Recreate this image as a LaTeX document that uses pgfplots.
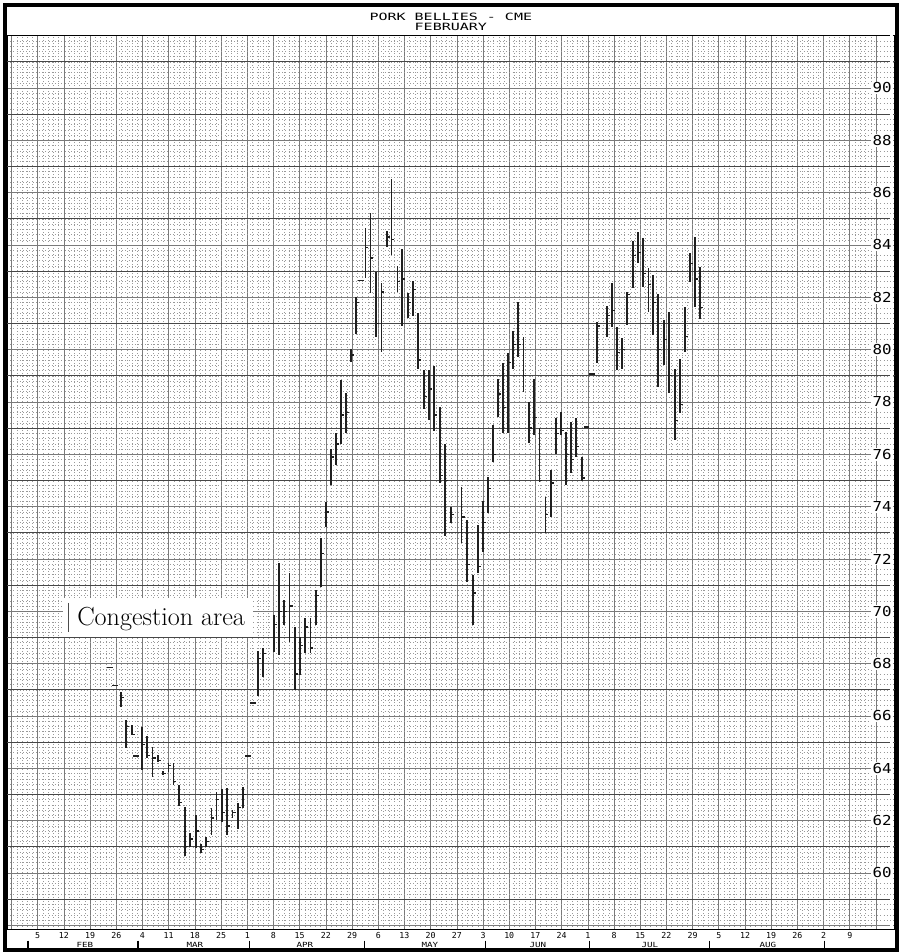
\documentclass[border=0pt]{standalone}
\usepackage{pgfplots}
\pgfplotsset{compat=1.18}
\usepackage{pgfplotstable}
\usepackage{fontspec}
\newfontfamily\plotmono{DejaVu Sans Mono}
\newfontfamily\plotnum[FakeStretch=1.15]{DejaVu Sans Mono}
\newfontfamily\plotmed[FakeStretch=1.3]{DejaVu Sans Mono}
\newfontfamily\plotwide[FakeStretch=1.5]{DejaVu Sans Mono}

\pgfdeclareplotmark{rtick}{%
  \pgfpathmoveto{\pgfqpoint{0pt}{0pt}}%
  \pgfpathlineto{\pgfqpoint{2.3pt}{0pt}}%
  \pgfusepathqstroke}

% daily high-low bars: week position, high, low, close
\pgfplotstableread{
w hi lo cl
3.18 66.93 66.36 66.70
3.37 65.85 64.78 65.60
3.60 65.66 65.28 65.30
3.98 65.58 63.94 64.90
4.17 65.24 64.40 64.50
4.38 64.82 63.67 64.40
4.59 64.51 64.24 64.30
4.78 63.90 63.75 63.80
4.99 64.20 63.86 64.10
5.18 64.20 63.37 63.50
5.39 63.37 62.57 62.70
5.62 62.53 60.65 61.00
5.81 61.53 61.00 61.30
6.04 62.20 60.96 61.60
6.23 61.10 60.77 60.90
6.42 61.38 61.00 61.20
6.63 62.49 61.46 62.10
6.82 63.10 62.03 62.80
7.03 63.21 61.95 62.30
7.23 63.25 61.46 61.80
7.44 62.41 62.10 62.30
7.65 62.68 61.69 62.50
7.84 63.29 62.49 63.00
8.41 68.50 66.78 68.20
8.60 68.60 67.50 68.40
9.02 69.86 68.45 69.50
9.21 71.85 68.33 70.00
9.40 70.44 69.48 70.00
9.61 71.47 68.83 70.20
9.82 69.40 67.00 67.60
10.01 69.02 67.57 68.70
10.20 69.75 68.41 69.40
10.41 69.75 68.41 68.60
10.62 70.82 69.48 70.60
10.81 72.80 70.93 72.20
11.00 74.18 73.22 73.80
11.19 76.20 74.83 75.90
11.39 76.82 75.60 76.40
11.58 78.84 76.40 77.50
11.77 78.34 76.82 77.60
11.96 80.03 79.53 79.80
12.15 82.01 80.60 81.80
12.51 84.65 82.74 83.90
12.70 85.22 82.17 83.50
12.91 82.97 80.49 81.00
13.12 82.55 79.91 82.20
13.33 84.54 83.92 84.30
13.50 86.52 83.62 84.20
13.73 83.20 82.20 82.60
13.90 83.85 80.91 82.70
14.13 82.17 81.21 81.80
14.32 82.63 81.29 82.30
14.52 81.40 79.26 79.60
14.74 79.22 77.73 78.20
14.93 79.22 77.31 78.50
15.13 79.38 76.89 77.50
15.35 77.81 74.91 75.20
15.56 76.40 72.88 75.00
15.77 73.99 73.38 73.70
16.18 74.75 72.61 73.60
16.40 73.49 71.12 71.80
16.61 71.39 69.48 70.70
16.81 73.30 71.47 71.70
17.01 74.22 72.27 73.40
17.19 75.14 73.76 74.70
17.38 77.12 75.71 76.00
17.57 78.88 77.43 78.30
17.76 79.49 76.82 77.80
17.95 79.87 76.82 79.50
18.14 80.71 79.26 80.20
18.33 81.82 79.72 80.20
18.54 80.49 78.38 79.00
18.75 78.00 76.43 77.00
18.94 78.88 76.74 77.40
19.15 77.00 74.94 75.00
19.38 74.37 73.00 73.70
19.59 75.40 73.61 74.90
19.78 77.39 76.01 76.80
19.97 77.62 76.74 76.90
20.17 76.86 74.83 76.00
20.37 77.24 75.29 75.80
20.56 77.39 75.90 76.30
20.78 75.90 74.98 75.10
21.35 81.06 79.49 80.90
21.73 81.67 80.49 81.30
21.92 82.55 80.87 81.50
22.11 80.87 79.22 79.90
22.30 80.45 79.26 80.00
22.49 82.20 80.94 82.10
22.72 84.15 82.36 83.60
22.91 84.50 83.31 83.70
23.10 84.27 82.40 82.90
23.31 83.12 81.44 82.50
23.50 82.85 80.56 81.80
23.69 82.13 78.57 80.00
23.90 81.13 79.41 80.40
24.10 81.44 78.34 79.00
24.33 79.26 76.55 77.30
24.52 79.64 77.58 77.90
24.71 81.63 79.91 80.50
24.90 83.70 82.59 83.30
25.09 84.31 81.63 82.70
25.28 83.16 81.17 81.60
}\bars

% one-price days
\pgfplotstableread{
w p
2.76 67.86
2.95 67.16
3.75 64.47
8.03 64.47
8.22 66.50
12.34 82.64
20.95 77.05
21.16 79.07
}\dashes

\begin{document}
\begin{tikzpicture}
\begin{axis}[
  scale only axis, width=666pt, height=671.25pt,
  xmin=-1.172, xmax=32.72, ymin=57.826, ymax=92.025,
  clip=false,
  axis line style={black, line width=0.7pt},
  /pgf/number format/assume math mode=true,
  xtick={-1,...,32},
  xticklabels={,5,12,19,26,4,11,18,25,1,8,15,22,29,6,13,20,27,3,10,17,24,1,8,15,22,29,5,12,19,26,2,9,},
  ytick={58,60,...,92},
  yticklabels={,60,62,64,66,68,70,72,74,76,78,80,82,84,86,88,90,},
  extra y ticks={59,61,...,91}, extra y tick labels={},
  extra y tick style={major grid style={black!72, line width=0.6pt}},
  minor x tick num=4, minor y tick num=9,
  grid=both,
  major grid style={black!52, line width=0.5pt},
  minor grid style={black!40, dotted, line width=0.35pt},
  major tick length=0pt, minor tick length=0pt,
  yticklabel pos=right,
  yticklabel style={font=\plotnum\fontsize{10.3}{11}\selectfont, anchor=east, inner sep=0.8pt, xshift=-1.5pt, fill=white},
  xticklabel style={font=\plotmono\fontsize{6.2}{7}\selectfont, anchor=north, inner sep=0pt, yshift=-1.5pt},
]
% congestion label box (drawn first so bars stay on top)
\fill[white] (axis cs:0.966,70.51) rectangle (axis cs:8.22,69.02);
\draw[black!70, line width=0.6pt] (axis cs:1.157,70.32) -- (axis cs:1.157,69.21);
\node[anchor=west, inner sep=0pt, font=\fontsize{19.6}{22}\selectfont] at (axis cs:1.50,69.70) {Congestion area};

% high-low bars with closing ticks
\addplot[only marks, mark=rtick, black!88, line width=1pt,
  error bars/.cd, y dir=both, y explicit,
  error mark=none, error bar style={black!88, line width=1.25pt}]
  table[x=w, y=cl,
        y error plus expr=\thisrow{hi}-\thisrow{cl},
        y error minus expr=\thisrow{cl}-\thisrow{lo}] {\bars};
% one-price days
\addplot[only marks, mark=-, mark size=2.2pt, black!88, line width=1.2pt] table[x=w, y=p] {\dashes};

% month names
\node[font=\plotmed\fontsize{5.3}{6}\selectfont, inner sep=0pt] at (axis cs:1.80,57.25) {FEB};
\node[font=\plotmed\fontsize{5.3}{6}\selectfont, inner sep=0pt] at (axis cs:6.00,57.25) {MAR};
\node[font=\plotmed\fontsize{5.3}{6}\selectfont, inner sep=0pt] at (axis cs:10.20,57.25) {APR};
\node[font=\plotmed\fontsize{5.3}{6}\selectfont, inner sep=0pt] at (axis cs:14.97,57.25) {MAY};
\node[font=\plotmed\fontsize{5.3}{6}\selectfont, inner sep=0pt] at (axis cs:19.09,57.25) {JUN};
\node[font=\plotmed\fontsize{5.3}{6}\selectfont, inner sep=0pt] at (axis cs:23.37,57.25) {JUL};
\node[font=\plotmed\fontsize{5.3}{6}\selectfont, inner sep=0pt] at (axis cs:27.87,57.25) {AUG};
% month separators
\draw[black, line width=0.8pt] (axis cs:-0.37,57.41) -- (axis cs:-0.37,57.0);
\draw[black, line width=0.8pt] (axis cs:3.83,57.41) -- (axis cs:3.83,57.0);
\draw[black, line width=0.8pt] (axis cs:8.07,57.41) -- (axis cs:8.07,57.0);
\draw[black, line width=0.8pt] (axis cs:12.49,57.41) -- (axis cs:12.49,57.0);
\draw[black, line width=0.8pt] (axis cs:17.11,57.41) -- (axis cs:17.11,57.0);
\draw[black, line width=0.8pt] (axis cs:21.08,57.41) -- (axis cs:21.08,57.0);
\draw[black, line width=0.8pt] (axis cs:25.65,57.41) -- (axis cs:25.65,57.0);
\draw[black, line width=0.8pt] (axis cs:30.05,57.41) -- (axis cs:30.05,57.0);

% title
\node[font=\plotwide\fontsize{7.5}{8}\selectfont, inner sep=0pt] at (axis cs:15.77,92.72) {PORK BELLIES - CME};
\node[font=\plotwide\fontsize{7.5}{8}\selectfont, inner sep=0pt] at (axis cs:15.77,92.34) {FEBRUARY};

% outer frame
\draw[black, line width=3pt] (axis cs:-1.26,93.17) rectangle (axis cs:32.80,57.06);
% page extent
\path (axis cs:-1.439,93.363) rectangle (axis cs:33.14,56.985);
\end{axis}
\end{tikzpicture}
\end{document}
